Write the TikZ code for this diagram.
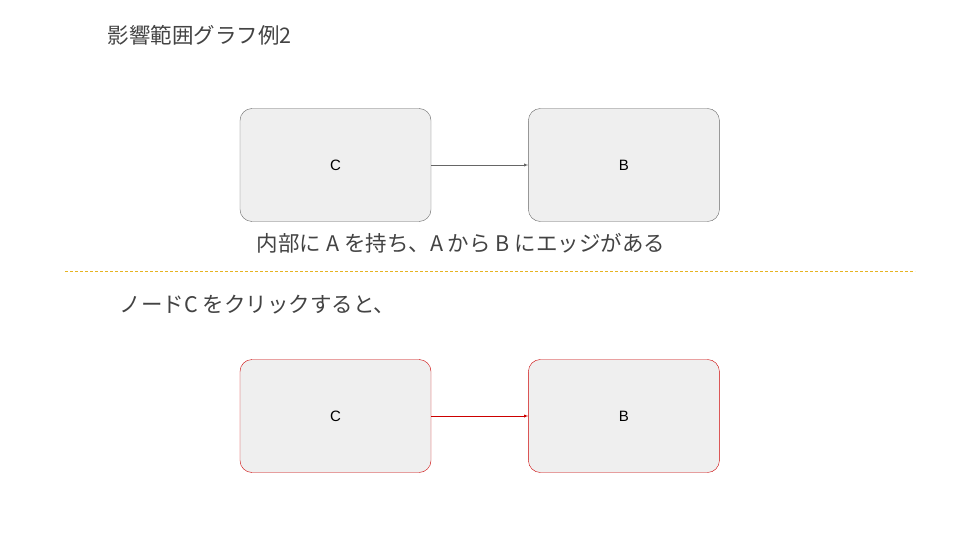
\documentclass[tikz,border=0pt]{standalone}
\usepackage{fontspec}
\setmainfont{Liberation Sans}
\newfontfamily\cjk{Noto Sans CJK JP}
\usetikzlibrary{positioning}
\definecolor{txtgray}{HTML}{434343}
\definecolor{boxfill}{HTML}{EFEFEF}
\definecolor{hired}{HTML}{CC0000}
\definecolor{dashgold}{HTML}{E6B422}
\begin{document}
\begin{tikzpicture}[x=1pt, y=-1pt,
                node distance = 97pt,
                box/.style = {draw=black!60, fill=boxfill, rounded corners=12pt, minimum width=191pt, minimum height=113pt, font=\fontsize{15}{18}\selectfont, text=black},
                redbox/.style = {box, draw=hired},
                caption/.style = {anchor=west, text=txtgray, font=\cjk\fontsize{21.5}{24}\selectfont}
                    ]
                \useasboundingbox (0,0) rectangle (960,540);
                \node[caption] (title) at (104,35) {影響範囲グラフ例2};
                % before
                \node[box] (c1) at (335.5,165) {C};
                \node[box, right=of c1] (b1) {B};
                \draw[-latex, black!60] (c1) to (b1);
                \node[caption, anchor=center] (note) at (461,243) {内部に A を持ち、A から B にエッジがある};
                \coordinate (dl) at (65,271);
                \coordinate (dr) at (915,271);
                \draw[dashgold, line width=0.9pt, dash pattern=on 3pt off 2pt] (dl) to (dr);
                % after
                \node[caption] (click) at (116,305) {ノードC をクリックすると、};
                \node[redbox] (c2) at (335.5,416) {C};
                \node[redbox, right=of c2] (b2) {B};
                \draw[-latex, hired] (c2) to (b2);
\end{tikzpicture}
\end{document}
